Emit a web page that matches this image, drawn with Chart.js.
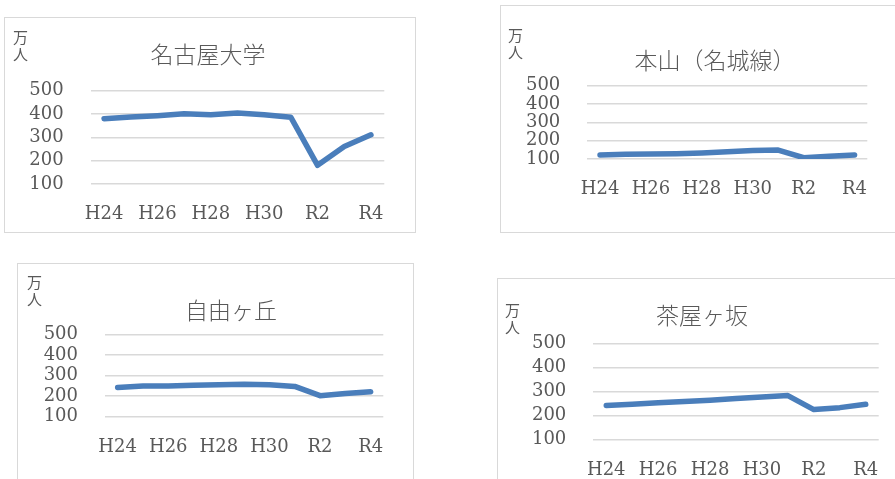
<!DOCTYPE html>
<html>
<head>
<meta charset="utf-8">
<script src="https://cdn.jsdelivr.net/npm/chart.js@4/dist/chart.umd.min.js"></script>
<style>
  html, body { margin: 0; padding: 0; background: #ffffff; overflow: hidden; }
  body { width: 895px; height: 479px; position: relative; }
  .box { position: absolute; border: 1px solid #d9d9d9; background: #fff; }
  .box canvas { display: block; }
  .unit {
    position: absolute;
    font-family: "Noto Sans CJK JP", sans-serif;
    font-size: 15px;
    line-height: 17px;
    color: #595959;
  }
</style>
</head>
<body>
<div class="box" style="left:4px; top:17px;"><canvas id="c1" width="410" height="214"></canvas></div>
<div class="box" style="left:500px; top:5px;"><canvas id="c2" width="400" height="226"></canvas></div>
<div class="box" style="left:17px; top:263px;"><canvas id="c3" width="395" height="230"></canvas></div>
<div class="box" style="left:497px; top:278px;"><canvas id="c4" width="400" height="220"></canvas></div>

<div class="unit" style="left:13px; top:28px;">万<br>人</div>
<div class="unit" style="left:508px; top:26px;">万<br>人</div>
<div class="unit" style="left:27px; top:273px;">万<br>人</div>
<div class="unit" style="left:505px; top:301px;">万<br>人</div>

<script>
// years H24 .. R4 (R1 = H31)
var years = ["H24", "H25", "H26", "H27", "H28", "H29", "H30", "R1", "R2", "R3", "R4"];
var tickLabels = ["H24", "", "H26", "", "H28", "", "H30", "", "R2", "", "R4"];
var yTicks = [100, 200, 300, 400, 500];

// passengers, 万人
var nagoyaUniv = [380, 387, 393, 401, 397, 404, 397, 386, 180, 261, 311];
var motoyama = [122, 126, 127, 129, 133, 140, 146, 149, 107, 115, 122];
var jiyugaoka = [242, 249, 249, 253, 255, 257, 255, 247, 202, 213, 221];
var chayagasaka = [242, 247, 253, 258, 264, 271, 277, 283, 225, 233, 247];

var textColor = "#595959";
var tickFont = { family: "DejaVu Serif", size: 18 };
var titleFont = { family: "Noto Sans CJK JP", size: 23, weight: 300 };

// the title sits a little right of the plot centre in the original
var titleShift = {
  id: "titleShift",
  afterLayout: function(chart, args, opts) {
    if (chart.titleBlock && opts.dx) {
      chart.titleBlock.left += opts.dx;
      chart.titleBlock.right += opts.dx;
    }
  }
};

function makeChart(id, title, values, lay) {
  var ctx = document.getElementById(id);
  return new Chart(ctx, {
    type: "line",
    data: {
      labels: years,
      datasets: [
        {
          label: title,
          data: values,
          borderColor: "#4a7ebb",
          borderWidth: 5.5,
          borderCapStyle: "round",
          borderJoinStyle: "round",
          pointRadius: 0,
          fill: false,
          tension: 0
        }
      ]
    },
    plugins: [titleShift],
    options: {
      responsive: false,
      animation: false,
      layout: {
        padding: { left: 0, right: lay.padR, top: 0, bottom: 0 }
      },
      plugins: {
        legend: { display: false },
        tooltip: { enabled: false },
        titleShift: { dx: lay.dx },
        title: {
          display: true,
          text: title,
          color: textColor,
          font: titleFont,
          padding: { top: lay.titleTop, bottom: lay.titleBottom }
        }
      },
      scales: {
        x: {
          offset: true,
          grid: { display: false },
          border: { display: false },
          ticks: {
            autoSkip: false,
            maxRotation: 0,
            padding: 12,
            color: textColor,
            font: tickFont,
            callback: function(v, i) {
              return tickLabels[i];
            }
          },
          afterFit: function(scale) {
            scale.height = lay.xH;
          }
        },
        y: {
          min: yTicks[0],
          max: yTicks[yTicks.length - 1],
          grid: { color: "#d9d9d9", lineWidth: 1.5, drawTicks: false },
          border: { display: false },
          afterBuildTicks: function(scale) {
            scale.ticks = yTicks.map(function(v) { return { value: v }; });
          },
          ticks: {
            autoSkip: false,
            padding: 27,
            color: textColor,
            font: tickFont
          },
          afterFit: function(scale) {
            scale.width = lay.yW;
          }
        }
      }
    }
  });
}

makeChart("c1", "名古屋大学", nagoyaUniv,
  { padR: 30.7, yW: 85.7, dx: 13.4, titleTop: 22.2, titleBottom: 22.9, xH: 48 });
makeChart("c2", "本山（名城線）", motoyama,
  { padR: 33.7, yW: 86.3, dx: 30.9, titleTop: 40.2, titleBottom: 11.9, xH: 73 });
makeChart("c3", "自由ヶ丘", jiyugaoka,
  { padR: 29.7, yW: 87, dx: 30.4, titleTop: 32.2, titleBottom: 10.5, xH: 77.3 });
makeChart("c4", "茶屋ヶ坂", chayagasaka,
  { padR: 19.3, yW: 95.3, dx: 13.7, titleTop: 22.2, titleBottom: 14.5, xH: 59.3 });
</script>
</body>
</html>
